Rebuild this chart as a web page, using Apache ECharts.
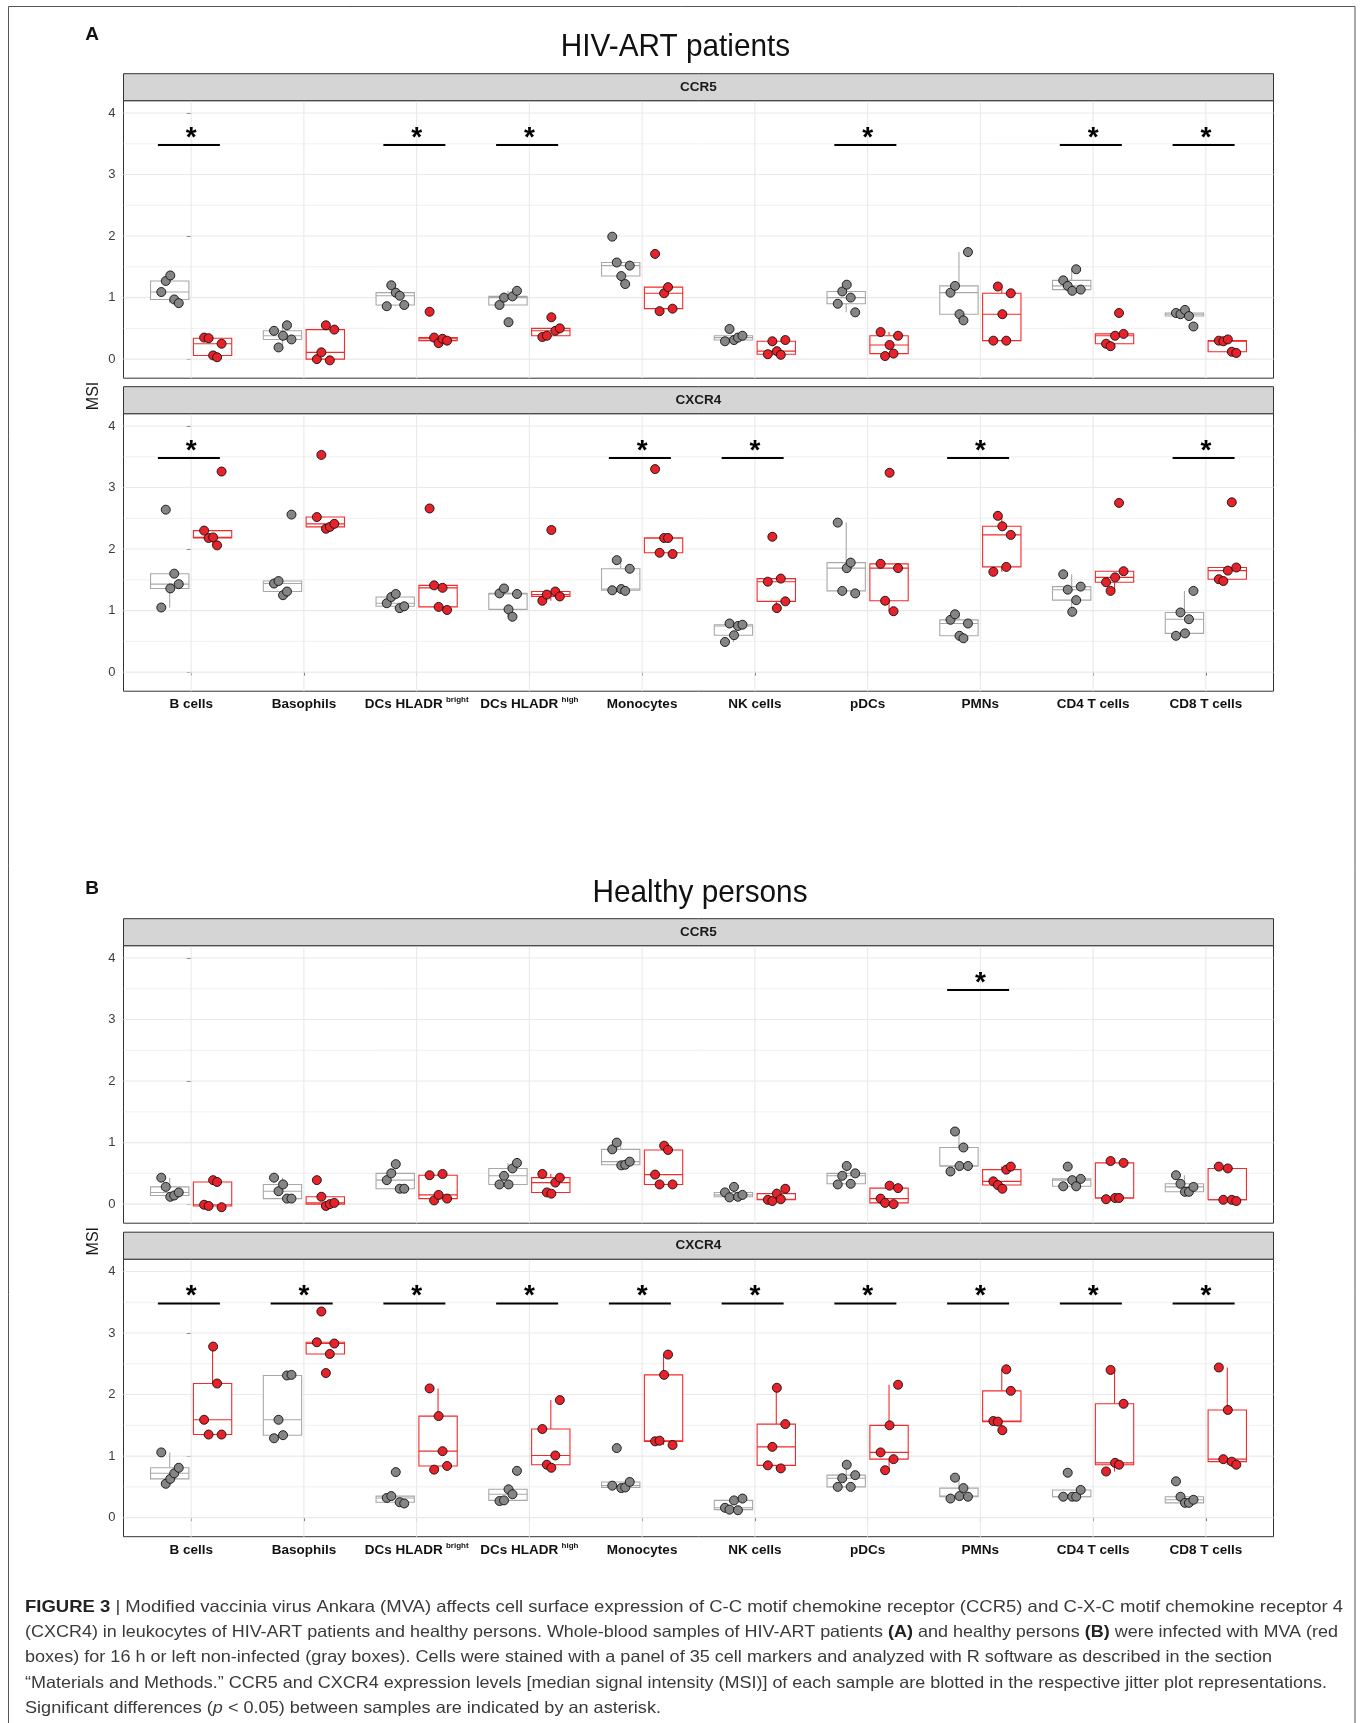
<!DOCTYPE html>
<html><head><meta charset="utf-8">
<script src="https://cdn.jsdelivr.net/npm/echarts@6/dist/echarts.min.js"></script>
<style>html,body{margin:0;padding:0;background:#fff}#c{width:1362px;height:1723px}</style>
</head><body><div id="c"></div>
<script>
// ---------------- DATA ----------------
const CATEGORIES = ['B cells','Basophils','DCs HLADR','DCs HLADR','Monocytes','NK cells','pDCs','PMNs','CD4 T cells','CD8 T cells'];
const CATEGORY_SUPERSCRIPTS = ['','','bright','high','','','','','',''];
const Y_TICKS = [0,1,2,3,4];

// HIV-ART patients, CCR5 (non-infected = gray, MVA = red), 5 samples each
const HIV_CCR5_NI = [
  [1.09,1.27,1.36,0.97,0.91],[0.46,0.19,0.38,0.55,0.32],[0.86,1.20,1.08,1.03,0.88],[0.88,1.00,0.60,1.02,1.11],
  [1.99,1.57,1.35,1.22,1.52],[0.29,0.49,0.31,0.35,0.38],[0.90,1.10,1.21,1.00,0.76],[1.08,1.19,0.73,0.63,1.74],
  [1.28,1.19,1.11,1.46,1.13],[0.75,0.73,0.80,0.70,0.53]];
const HIV_CCR5_MVA = [
  [0.35,0.34,0.06,0.03,0.25],[0.00,0.11,0.55,-0.02,0.48],[0.77,0.35,0.26,0.33,0.30],[0.36,0.38,0.68,0.46,0.50],
  [1.71,0.78,1.07,1.17,0.82],[0.08,0.29,0.13,0.07,0.31],[0.44,0.05,0.23,0.09,0.38],[0.30,1.18,0.73,0.30,1.07],
  [0.25,0.21,0.38,0.75,0.41],[0.30,0.29,0.32,0.12,0.10]];
const HIV_CCR5_SIG = [0,2,3,6,8,9];

// HIV-ART patients, CXCR4
const HIV_CXCR4_NI = [
  [1.05,2.64,1.36,1.60,1.43],[1.44,1.48,1.25,1.31,2.56],[1.12,1.22,1.27,1.04,1.07],[1.28,1.36,1.02,0.90,1.27],
  [1.33,1.82,1.35,1.32,1.68],[0.49,0.79,0.60,0.75,0.77],[2.43,1.32,1.69,1.78,1.28],[0.85,0.94,0.59,0.55,0.79],
  [1.59,1.34,0.98,1.17,1.39],[0.59,0.97,0.63,0.86,1.32]];
const HIV_CXCR4_MVA = [
  [2.30,2.18,2.19,2.06,3.26],[2.52,3.53,2.33,2.36,2.41],[2.66,1.41,1.06,1.37,1.01],[1.16,1.26,2.31,1.31,1.23],
  [3.30,1.94,2.18,2.18,1.92],[1.47,2.20,1.04,1.52,1.15],[1.76,1.16,3.24,0.99,1.69],[1.63,2.54,2.37,1.71,2.23],
  [1.46,1.32,1.54,2.75,1.64],[1.51,1.48,1.65,2.76,1.70]];
const HIV_CXCR4_SIG = [0,4,5,7,9];

// Healthy persons, CCR5
const HEALTHY_CCR5_NI = [
  [0.43,0.28,0.12,0.14,0.19],[0.43,0.21,0.32,0.09,0.09],[0.39,0.50,0.65,0.25,0.25],[0.32,0.46,0.32,0.58,0.67],
  [0.89,1.00,0.63,0.64,0.69],[0.19,0.11,0.28,0.12,0.15],[0.32,0.46,0.62,0.33,0.50],[0.53,1.18,0.62,0.92,0.62],
  [0.29,0.61,0.39,0.29,0.41],[0.47,0.33,0.20,0.20,0.28]];
const HEALTHY_CCR5_MVA = [
  [-0.01,-0.03,0.39,0.36,-0.05],[0.39,0.12,-0.03,0.00,0.02],[0.47,0.06,0.15,0.49,0.09],[0.49,0.19,0.17,0.35,0.43],
  [0.48,0.32,0.95,0.88,0.32],[0.07,0.05,0.17,0.08,0.25],[0.09,0.02,0.30,0.00,0.26],[0.37,0.31,0.25,0.56,0.61],
  [0.08,0.70,0.10,0.10,0.67],[0.61,0.07,0.58,0.07,0.05]];
const HEALTHY_CCR5_SIG = [7];

// Healthy persons, CXCR4
const HEALTHY_CXCR4_NI = [
  [1.06,0.55,0.63,0.72,0.81],[1.29,1.59,1.34,2.31,2.32],[0.32,0.35,0.74,0.25,0.23],[0.27,0.28,0.46,0.38,0.76],
  [0.52,1.13,0.48,0.49,0.58],[0.16,0.13,0.28,0.12,0.31],[0.50,0.64,0.86,0.50,0.69],[0.31,0.65,0.35,0.48,0.34],
  [0.34,0.73,0.34,0.34,0.45],[0.59,0.34,0.24,0.24,0.29]];
const HEALTHY_CXCR4_MVA = [
  [1.59,1.35,2.78,2.18,1.35],[2.85,3.35,2.35,2.66,2.83],[2.10,0.78,1.65,1.08,0.84],[1.44,0.86,0.81,1.01,1.91],
  [1.24,1.25,2.32,2.65,1.18],[0.85,1.15,2.11,0.80,1.52],[1.06,0.77,1.50,0.95,2.16],[1.57,1.56,1.42,2.41,2.06],
  [0.75,2.40,0.89,0.86,1.85],[2.44,0.95,1.75,0.91,0.86]];
const HEALTHY_CXCR4_SIG = [0,1,2,3,4,5,6,7,8,9];

// ---------------- LAYOUT / STYLE ----------------
const FONT = 'Liberation Sans';
const PANEL_LEFT = 123.5, PANEL_W = 1150, PLOT_H = 277.5, STRIP_H = 27;
const Y_MIN = -0.31, Y_MAX = 4.2, X_MIN = -0.6, X_MAX = 9.6;
const DODGE = 0.19, BOX_W = 0.34;
const JITTER = [-0.075,-0.035,0.005,0.04,0.08];
const SIG_Y = 3.48, STAR_Y = 3.66;
const NI_BOX = '#a8a8a8', MVA_BOX = '#f32a2a', NI_PT = '#858585', MVA_PT = '#e8222a';
const GRID_COLOR = '#e9e9e9';

const PANELS = [
  {strip:'CCR5',  top:100.7,  ni:HIV_CCR5_NI,      mva:HIV_CCR5_MVA,      sig:HIV_CCR5_SIG,      xLabels:false},
  {strip:'CXCR4', top:413.7,  ni:HIV_CXCR4_NI,     mva:HIV_CXCR4_MVA,     sig:HIV_CXCR4_SIG,     xLabels:true},
  {strip:'CCR5',  top:945.7,  ni:HEALTHY_CCR5_NI,  mva:HEALTHY_CCR5_MVA,  sig:HEALTHY_CCR5_SIG,  xLabels:false},
  {strip:'CXCR4', top:1259.2, ni:HEALTHY_CXCR4_NI, mva:HEALTHY_CXCR4_MVA, sig:HEALTHY_CXCR4_SIG, xLabels:true}
];

function boxStats(vals){
  const s = vals.slice().sort((a,b)=>a-b);
  const q = p => { const h=(s.length-1)*p, lo=Math.floor(h), hi=Math.min(lo+1,s.length-1); return s[lo]+(h-lo)*(s[hi]-s[lo]); };
  const q1=q(0.25), med=q(0.5), q3=q(0.75), iqr=q3-q1;
  const lo=Math.min(...s.filter(v=>v>=q1-1.5*iqr));
  const hi=Math.max(...s.filter(v=>v<=q3+1.5*iqr));
  return [lo,q1,med,q3,hi];
}

function boxRender(color){
  return function(params, api){
    const x=api.value(0);
    const c=v=>api.coord([x,v]);
    const pLo=c(api.value(1)), pQ1=c(api.value(2)), pM=c(api.value(3)), pQ3=c(api.value(4)), pHi=c(api.value(5));
    const w=api.size([BOX_W,0])[0];
    const cx=pQ1[0];
    const st={stroke:color,lineWidth:1.1,fill:null};
    return {type:'group',children:[
      {type:'line',shape:{x1:cx,y1:pHi[1],x2:cx,y2:pQ3[1]},style:st},
      {type:'line',shape:{x1:cx,y1:pQ1[1],x2:cx,y2:pLo[1]},style:st},
      {type:'rect',shape:{x:cx-w/2,y:pQ3[1],width:w,height:pQ1[1]-pQ3[1]},style:{stroke:color,lineWidth:1.1,fill:'#fff'}},
      {type:'line',shape:{x1:cx-w/2,y1:pM[1],x2:cx+w/2,y2:pM[1]},style:st}
    ]};
  };
}

const H_LINES = [];
Y_TICKS.forEach((t,k)=>{ H_LINES.push([0,t,1]); if(k<Y_TICKS.length-1) H_LINES.push([0,t+0.5,0]); });

const grids=[], xAxes=[], yAxes=[], series=[];
PANELS.forEach((p,g)=>{
  grids.push({left:PANEL_LEFT, top:p.top, width:PANEL_W, height:PLOT_H, show:true, borderColor:'#333', borderWidth:1, backgroundColor:'#fff'});
  xAxes.push({gridIndex:g, type:'value', min:X_MIN, max:X_MAX,
    axisLine:{show:false}, splitLine:{show:false},
    axisTick:{show:p.xLabels, customValues:CATEGORIES.map((c,i)=>i), length:3.5, lineStyle:{color:'#333',width:1}},
    axisLabel:{show:p.xLabels, customValues:CATEGORIES.map((c,i)=>i), margin:5,
      formatter:v=>{const i=Math.round(v); const s=CATEGORY_SUPERSCRIPTS[i]; return s?`{m|${CATEGORIES[i]}} {s|${s}}`:`{m|${CATEGORIES[i]}}`;},
      rich:{m:{fontSize:13.5,fontWeight:'bold',color:'#111',fontFamily:FONT,lineHeight:17},
            s:{fontSize:8,fontWeight:'bold',color:'#111',fontFamily:FONT,lineHeight:10,verticalAlign:'top'}}}
  });
  yAxes.push({gridIndex:g, type:'value', min:Y_MIN, max:Y_MAX,
    axisLine:{show:false}, splitLine:{show:false},
    axisTick:{show:true, customValues:Y_TICKS, length:4.5, lineStyle:{color:'#333',width:1}},
    axisLabel:{customValues:Y_TICKS, margin:8, color:'#3d3d3d', fontSize:13, fontFamily:FONT}
  });
  series.push({type:'custom', xAxisIndex:g, yAxisIndex:g, silent:true, z:1, encode:{x:0,y:1}, data:H_LINES,
    renderItem:(params,api)=>{const cs=params.coordSys; const y=api.coord([0,api.value(1)])[1];
      return {type:'line',shape:{x1:cs.x,y1:y,x2:cs.x+cs.width,y2:y},style:{stroke:GRID_COLOR,lineWidth:api.value(2)?1.1:0.7}};}});
  series.push({type:'custom', xAxisIndex:g, yAxisIndex:g, silent:true, z:1, encode:{x:0,y:1}, data:CATEGORIES.map((c,i)=>[i,0]),
    renderItem:(params,api)=>{const cs=params.coordSys; const x=api.coord([api.value(0),0])[0];
      return {type:'line',shape:{x1:x,y1:cs.y,x2:x,y2:cs.y+cs.height},style:{stroke:GRID_COLOR,lineWidth:1.1}};}});
  series.push({type:'custom', xAxisIndex:g, yAxisIndex:g, silent:true, z:2, encode:{x:0,y:[1,2,3,4,5]},
    data:p.ni.map((v,i)=>[i-DODGE,...boxStats(v)]), renderItem:boxRender(NI_BOX)});
  series.push({type:'custom', xAxisIndex:g, yAxisIndex:g, silent:true, z:2, encode:{x:0,y:[1,2,3,4,5]},
    data:p.mva.map((v,i)=>[i+DODGE,...boxStats(v)]), renderItem:boxRender(MVA_BOX)});
  series.push({type:'scatter', xAxisIndex:g, yAxisIndex:g, silent:true, z:3, symbolSize:9, clip:false,
    itemStyle:{color:NI_PT,borderColor:'#111',borderWidth:0.9,opacity:1},
    data:p.ni.flatMap((vals,i)=>vals.map((v,k)=>[i-DODGE+JITTER[k],v]))});
  series.push({type:'scatter', xAxisIndex:g, yAxisIndex:g, silent:true, z:3, symbolSize:9, clip:false,
    itemStyle:{color:MVA_PT,borderColor:'#111',borderWidth:0.9,opacity:1},
    data:p.mva.flatMap((vals,i)=>vals.map((v,k)=>[i+DODGE+JITTER[k],v]))});
  series.push({type:'custom', xAxisIndex:g, yAxisIndex:g, silent:true, z:4, encode:{x:0,y:1},
    data:p.sig.map(i=>[i,SIG_Y]),
    renderItem:(params,api)=>{const i=api.value(0);
      const a=api.coord([i-0.295,SIG_Y]), b=api.coord([i+0.255,SIG_Y]), s=api.coord([i,STAR_Y]);
      return {type:'group',children:[
        {type:'line',shape:{x1:a[0],y1:a[1],x2:b[0],y2:b[1]},style:{stroke:'#000',lineWidth:2}},
        {type:'text',x:s[0],y:s[1]+4,style:{text:'*',fontSize:28,fontWeight:'bold',fontFamily:FONT,fill:'#000',
          textAlign:'center',textVerticalAlign:'middle',align:'center',verticalAlign:'middle'}}
      ]};}});
});

// ---------------- DECORATIONS ----------------
const graphics=[];
graphics.push({type:'rect',silent:true,z:0,shape:{x:8.5,y:6.5,width:1346.5,height:1730},style:{fill:null,stroke:'#555',lineWidth:1}});
function txt(x,y,text,opt){
  return Object.assign({type:'text',x:x,y:y,silent:true,z:10,style:Object.assign({text:text,fontFamily:FONT,fill:'#111',
    textAlign:'center',textVerticalAlign:'middle',align:'center',verticalAlign:'middle'},opt.style||{})},opt.el||{});
}
PANELS.forEach(p=>{
  graphics.push({type:'rect',silent:true,z:5,shape:{x:PANEL_LEFT,y:p.top-STRIP_H,width:PANEL_W,height:STRIP_H},
    style:{fill:'#d4d5d4',stroke:'#333',lineWidth:1}});
  graphics.push(txt(PANEL_LEFT+PANEL_W/2,p.top-STRIP_H/2,p.strip,{style:{fontSize:13.5,fontWeight:'bold',fill:'#1a1a1a'}}));
});
graphics.push(txt(92,35,'A',{style:{fontSize:19,fontWeight:'bold',fill:'#111'}}));
graphics.push(txt(92,889,'B',{style:{fontSize:19,fontWeight:'bold',fill:'#111'}}));
graphics.push(txt(675.5,47,'HIV-ART patients',{style:{fontSize:32,fill:'#111'},el:{scaleX:0.93}}));
graphics.push(txt(700,893.5,'Healthy persons',{style:{fontSize:32,fill:'#111'},el:{scaleX:0.93}}));
graphics.push(txt(94,(PANELS[0].top+PANELS[1].top+PLOT_H)/2,'MSI',{style:{fontSize:16,fill:'#1a1a1a'},el:{rotation:Math.PI/2}}));
graphics.push(txt(94,(PANELS[2].top+PANELS[3].top+PLOT_H)/2,'MSI',{style:{fontSize:16,fill:'#1a1a1a'},el:{rotation:Math.PI/2}}));

// Caption
const CAPTION_LINES = [
  [['b','FIGURE 3'],['n',' | Modified vaccinia virus Ankara (MVA) affects cell surface expression of C-C motif chemokine receptor (CCR5) and C-X-C motif chemokine receptor 4']],
  [['n','(CXCR4) in leukocytes of HIV-ART patients and healthy persons. Whole-blood samples of HIV-ART patients '],['b','(A)'],['n',' and healthy persons '],['b','(B)'],['n',' were infected with MVA (red']],
  [['n','boxes) for 16 h or left non-infected (gray boxes). Cells were stained with a panel of 35 cell markers and analyzed with R software as described in the section']],
  [['n','\u201CMaterials and Methods.\u201D CCR5 and CXCR4 expression levels [median signal intensity (MSI)] of each sample are blotted in the respective jitter plot representations.']],
  [['n','Significant differences ('],['i','p'],['n',' < 0.05) between samples are indicated by an asterisk.']]
];
const CAP_SIZE = 16.5, CAP_X = 25, CAP_Y0 = 1607.2, CAP_DY = 25.3;
const CAP_LINE_WIDTHS = [1318, 1313, 1247, 1302, 636];
const CAP_STYLES = {
  n:{fontSize:CAP_SIZE,fontFamily:FONT,fill:'#3a3a3a',color:'#3a3a3a'},
  b:{fontSize:CAP_SIZE,fontFamily:FONT,fontWeight:'bold',fill:'#222',color:'#222'},
  i:{fontSize:CAP_SIZE,fontFamily:FONT,fontStyle:'italic',fill:'#3a3a3a',color:'#3a3a3a'}
};
const ctx=document.createElement('canvas').getContext('2d');
function segW(k,t){ctx.font=(k==='b'?'bold ':k==='i'?'italic ':'')+CAP_SIZE+'px "'+FONT+'"'; return ctx.measureText(t).width;}
CAPTION_LINES.forEach((segs,j)=>{
  const w = segs.reduce((a,[k,t])=>a+segW(k,t),0);
  graphics.push({type:'text',x:CAP_X,y:CAP_Y0+j*CAP_DY,scaleX:CAP_LINE_WIDTHS[j]/w,silent:true,z:10,
    style:{text:segs.map(([k,t])=>`{${k}|${t}}`).join(''),rich:CAP_STYLES,fontSize:CAP_SIZE,fontFamily:FONT,fill:'#3a3a3a',
      textAlign:'left',textVerticalAlign:'middle',align:'left',verticalAlign:'middle'}});
});

const chart=echarts.init(document.getElementById('c'),null,{renderer:'canvas',width:1362,height:1723});
chart.setOption({animation:false, backgroundColor:'#fff', grid:grids, xAxis:xAxes, yAxis:yAxes, series:series, graphic:{elements:graphics}});
</script></body></html>
